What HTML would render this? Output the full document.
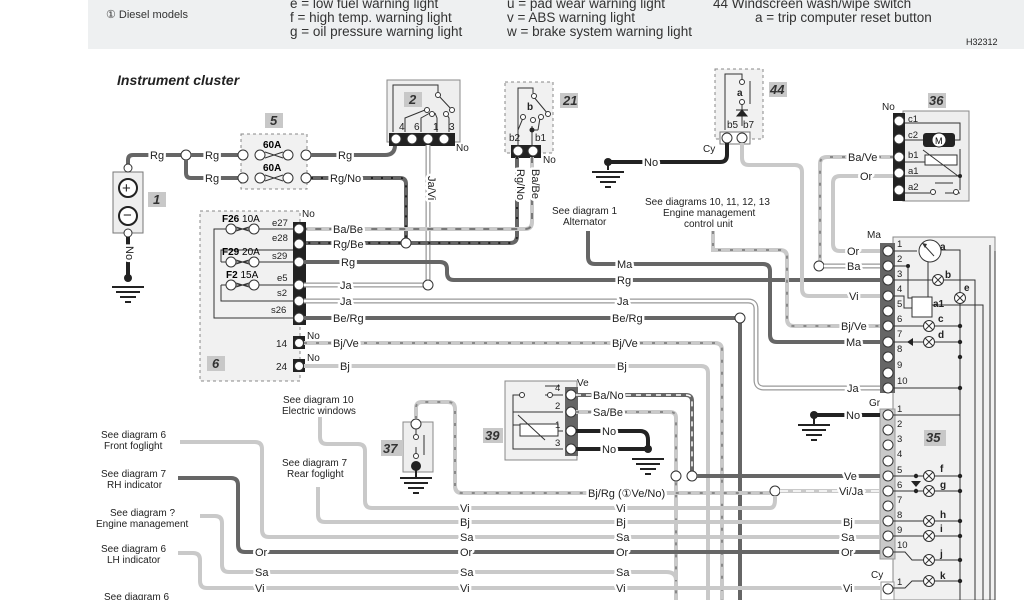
<!DOCTYPE html>
<html><head><meta charset="utf-8"><style>
html,body{margin:0;padding:0;background:#fff;}
svg{display:block;font-family:"Liberation Sans",Arial,sans-serif;}
.t{font-size:11px;fill:#222;paint-order:stroke;stroke:#fff;stroke-width:5px;stroke-linejoin:round;}
.s{font-size:10px;fill:#222;}
.h{font-size:13.5px;fill:#333;}
.d{fill:none;stroke:#666;stroke-width:4;}
.l{fill:none;stroke:#c9c9c9;stroke-width:4;}
.k{fill:none;stroke:#222;stroke-width:4;}
.dd{fill:none;stroke:#222;stroke-width:2;stroke-dasharray:2 8;}
.ld{fill:none;stroke:#888;stroke-width:2;stroke-dasharray:3 9;}
.ja{fill:none;stroke:#999;stroke-width:5;}
.jw{fill:none;stroke:#fff;stroke-width:2.5;}
.thin{fill:none;stroke:#333;stroke-width:1;}
.pin{fill:#fff;stroke:#333;stroke-width:1;}
.num{font-size:13px;font-weight:bold;font-style:italic;fill:#333;}
.nb{fill:#c8c8c8;}
</style></head><body>
<svg width="1024" height="600" viewBox="0 0 1024 600" xmlns="http://www.w3.org/2000/svg">
<!-- header -->
<rect x="88" y="0" width="936" height="49" fill="#eef0f1"/>
<text x="106" y="18" style="font-size:11px" fill="#333">① Diesel models</text>
<text class="h" x="290" y="8">e = low fuel warning light</text>
<text class="h" x="290" y="22">f  = high temp. warning light</text>
<text class="h" x="290" y="36">g = oil pressure warning light</text>
<text class="h" x="507" y="8">u = pad wear warning light</text>
<text class="h" x="507" y="22">v = ABS warning light</text>
<text class="h" x="507" y="36">w = brake system warning light</text>
<text class="h" x="713" y="8">44   Windscreen wash/wipe switch</text>
<text class="h" x="755" y="22">a  =  trip computer reset button</text>
<text class="s" x="966" y="45" style="font-size:9px">H32312</text>
<text x="117" y="85" style="font-size:14px;font-weight:bold;font-style:italic" fill="#222">Instrument cluster</text>

<!-- background boxes -->
<rect x="200" y="211" width="100" height="170" fill="#f1f1f1" stroke="#888" stroke-dasharray="3 3"/>
<rect x="241" y="134" width="66" height="55" fill="#f1f1f1" stroke="#888" stroke-dasharray="3 3"/>
<rect x="387" y="80" width="73" height="62" fill="#eee" stroke="#888"/>
<rect x="505" y="82" width="48" height="71" fill="#f1f1f1" stroke="#888" stroke-dasharray="3 3"/>
<rect x="715" y="69" width="48" height="70" fill="#f1f1f1" stroke="#888" stroke-dasharray="3 3"/>
<rect x="903" y="111" width="66" height="90" fill="#eee" stroke="#888"/>
<rect x="893" y="237" width="102" height="363" fill="#f1f1f1" stroke="#888"/>
<rect x="505" y="381" width="72" height="79" fill="#f1f1f1" stroke="#888"/>
<rect x="403" y="422" width="30" height="50" fill="#eee" stroke="#888"/>

<!-- battery 1 -->
<rect x="113" y="172" width="30" height="61" fill="#eee" stroke="#777"/>
<circle cx="128" cy="188" r="9" fill="#fff" stroke="#222" stroke-width="2"/><text x="122" y="193" style="font-size:15px" fill="#222">+</text>
<circle cx="128" cy="216" r="9" fill="#fff" stroke="#222" stroke-width="2"/><text x="123" y="220" style="font-size:15px" fill="#222">−</text>
<rect x="148" y="192" width="18" height="15" class="nb"/><text class="num" x="153" y="204">1</text>
<path class="d" d="M128 168 V160 Q128 155 133 155 H186"/>
<circle cx="128" cy="168" r="4" class="pin"/><circle cx="128" cy="233" r="4" class="pin"/>
<path class="k" d="M128 237 V275"/><text class="t" x="122" y="250" transform="rotate(90 126 250)">No</text>
<circle cx="128" cy="278" r="4" fill="#222"/>
<path d="M112 287 H144 M116 292 H140 M120 297 H136 M125 302 H131" stroke="#222" stroke-width="2"/>

<!-- Rg to fuses -->
<circle cx="186" cy="155" r="5" class="pin"/>
<path class="d" d="M191 155 H240 M186 160 V173 Q186 178 191 178 H240"/>
<text class="t" x="150" y="159">Rg</text><text class="t" x="205" y="159">Rg</text><text class="t" x="205" y="182">Rg</text>
<rect x="265" y="113" width="18" height="15" class="nb"/><text class="num" x="270" y="125">5</text>
<text x="263" y="148" style="font-size:10px;font-weight:bold">60A</text>
<text x="263" y="171" style="font-size:10px;font-weight:bold">60A</text>
<g class="pin"><circle cx="243" cy="155" r="5"/><circle cx="260" cy="155" r="5"/><circle cx="288" cy="155" r="5"/><circle cx="306" cy="155" r="5"/>
<circle cx="243" cy="178" r="5"/><circle cx="260" cy="178" r="5"/><circle cx="288" cy="178" r="5"/><circle cx="306" cy="178" r="5"/></g>
<path class="thin" d="M265 152 L283 158 M265 158 L283 152 M265 175 L283 181 M265 181 L283 175"/>
<path class="d" d="M311 155 H385 Q395 155 395 145"/>
<text class="t" x="338" y="159">Rg</text>
<path class="d" d="M311 178 H400 Q406 178 406 184 V243"/><path class="dd" d="M311 178 H400 Q406 178 406 184 V243"/>
<text class="t" x="330" y="182">Rg/No</text>

<!-- component 2 -->
<rect x="404" y="92" width="18" height="15" class="nb"/><text class="num" x="409" y="104">2</text>
<path class="thin" d="M393 132 V85 H438 V92 M438 95 L452 110 M405 132 V118 L425 110 M421 132 V118 L430 113 M437 132 V118 L435 113 M449 132 V118 L446 113"/>
<g class="pin"><circle cx="438" cy="95" r="2.5"/><circle cx="452" cy="110" r="2.5"/><circle cx="427" cy="110" r="2.5"/><circle cx="432" cy="114" r="2.5"/><circle cx="446" cy="114" r="2.5"/></g>
<text class="s" x="399" y="130">4</text><text class="s" x="414" y="130">6</text><text class="s" x="433" y="130">1</text><text class="s" x="449" y="130">3</text>
<rect x="389" y="133" width="66" height="13" fill="#222"/>
<g class="pin"><circle cx="396" cy="139" r="5"/><circle cx="412" cy="139" r="5"/><circle cx="428" cy="139" r="5"/><circle cx="444" cy="139" r="5"/></g>
<text class="s" x="456" y="151">No</text>
<path class="ja" d="M428 145 V285"/><path class="jw" d="M428 145 V285"/>
<text class="t" x="424" y="180" transform="rotate(90 428 180)">Ja/Vi</text>

<!-- component 21 -->
<rect x="560" y="93" width="18" height="15" class="nb"/><text class="num" x="563" y="105">21</text>
<path class="thin" d="M518 145 V88 H533 V93 M533 96 L548 114 M518 145 V130 L523 118 M532 145 V126 M538 130 L540 118 M532 130 H538"/>
<circle cx="532" cy="130" r="2.5" fill="#222"/>
<g class="pin"><circle cx="534" cy="96" r="2.5"/><circle cx="548" cy="114" r="2.5"/><circle cx="523" cy="117" r="2.5"/><circle cx="533" cy="120" r="2.5"/><circle cx="541" cy="117" r="2.5"/></g>
<text class="s" x="527" y="110" style="font-weight:bold">b</text>
<text class="s" x="509" y="141">b2</text><text class="s" x="535" y="141">b1</text>
<rect x="511" y="145" width="30" height="13" fill="#222"/>
<g class="pin"><circle cx="518" cy="151" r="5"/><circle cx="533" cy="151" r="5"/></g>
<text class="s" x="543" y="163">No</text>
<path class="d" d="M517 157 V236 Q517 243 510 243 H304"/><path class="dd" d="M517 157 V236 Q517 243 510 243 H304"/>
<path class="l" d="M532 157 V222 Q532 229 525 229 H304"/><path d="M532 157 V222 Q532 229 525 229 H304" fill="none" stroke="#777" stroke-width="2" stroke-dasharray="6 8"/>
<text class="t" x="514" y="172" transform="rotate(90 517 172)">Rg/No</text>
<text class="t" x="529" y="172" transform="rotate(90 532 172)">Ba/Be</text>
<circle cx="406" cy="243" r="5" class="pin"/>

<!-- component 6 -->
<path class="thin" d="M300 229 H214 V318 H300 M221 262 V250 H300 M221 262 H300 M221 285 V301 H300 M221 285 H300"/>
<g class="pin"><circle cx="231" cy="229" r="5"/><circle cx="254" cy="229" r="5"/><circle cx="231" cy="262" r="5"/><circle cx="254" cy="262" r="5"/><circle cx="231" cy="285" r="5"/><circle cx="254" cy="285" r="5"/></g>
<path class="thin" d="M236 227 L249 231 M236 231 L249 227 M236 260 L249 264 M236 264 L249 260 M236 283 L249 287 M236 287 L249 283"/>
<text x="222" y="222" style="font-size:10px"><tspan font-weight="bold">F26</tspan> 10A</text>
<text x="222" y="255" style="font-size:10px"><tspan font-weight="bold">F29</tspan> 20A</text>
<text x="226" y="278" style="font-size:10px"><tspan font-weight="bold">F2</tspan> 15A</text>
<g class="s" style="font-size:9.5px"><text x="272" y="226">e27</text><text x="272" y="241">e28</text><text x="272" y="259">s29</text><text x="277" y="281">e5</text><text x="277" y="296">s2</text><text x="271" y="313">s26</text></g>
<text class="s" x="302" y="217">No</text>
<rect x="293" y="222" width="13" height="103" fill="#222"/>
<g class="pin"><circle cx="299" cy="229" r="5"/><circle cx="299" cy="244" r="5"/><circle cx="299" cy="262" r="5"/><circle cx="299" cy="285" r="5"/><circle cx="299" cy="301" r="5"/><circle cx="299" cy="318" r="5"/></g>
<rect x="293" y="336" width="12" height="13" fill="#222"/><circle cx="299" cy="343" r="4.5" class="pin"/>
<rect x="293" y="359" width="12" height="13" fill="#222"/><circle cx="299" cy="366" r="4.5" class="pin"/>
<text class="s" x="276" y="347">14</text><text class="s" x="276" y="370">24</text>
<text class="s" x="307" y="339">No</text><text class="s" x="307" y="361">No</text>
<rect x="207" y="356" width="18" height="15" class="nb"/><text class="num" x="212" y="368">6</text>
<text class="t" x="333" y="233">Ba/Be</text><text class="t" x="333" y="248">Rg/Be</text>

<!-- left-to-right wires -->
<path class="d" d="M304 262 H440 Q447 262 447 269 V273 Q447 280 454 280 H880"/>
<text class="t" x="341" y="266">Rg</text><text class="t" x="617" y="284">Rg</text>
<path class="ja" d="M304 285 H428"/><path class="jw" d="M304 285 H428"/><circle cx="428" cy="285" r="5" class="pin"/>
<text class="t" x="340" y="289">Ja</text>
<path class="ja" d="M304 301 H748 Q756 301 756 309 V380 Q756 388 764 388 H880"/><path class="jw" d="M304 301 H748 Q756 301 756 309 V380 Q756 388 764 388 H880"/>
<text class="t" x="340" y="305">Ja</text><text class="t" x="617" y="305">Ja</text><text class="t" x="847" y="392">Ja</text>
<path class="d" d="M304 318 H740 V600"/><circle cx="740" cy="318" r="5" class="pin"/>
<text class="t" x="333" y="322">Be/Rg</text><text class="t" x="612" y="322">Be/Rg</text>
<path class="l" d="M304 343 H715 Q722 343 722 350 V600"/><path class="ld" d="M304 343 H715 Q722 343 722 350 V600"/>
<text class="t" x="333" y="347">Bj/Ve</text><text class="t" x="612" y="347">Bj/Ve</text>
<path class="l" d="M304 366 H701 Q708 366 708 373 V600"/>
<text class="t" x="340" y="370">Bj</text><text class="t" x="617" y="370">Bj</text>

<!-- alternator Ma -->
<text class="s" x="552" y="214">See diagram 1</text><text class="s" x="563" y="225">Alternator</text>
<path class="d" d="M588 231 V257 Q588 264 595 264 H763 Q770 264 770 271 V335 Q770 342 777 342 H880"/>
<text class="t" x="617" y="268">Ma</text><text class="t" x="846" y="346">Ma</text>
<!-- engine mgmt -->
<text class="s" x="645" y="205">See diagrams 10, 11, 12, 13</text><text class="s" x="663" y="216">Engine management</text><text class="s" x="684" y="227">control unit</text>
<path class="l" d="M713 231 V250 H780 Q787 250 787 257 V319 Q787 326 794 326 H880"/><path class="ld" d="M713 231 V250 H780 Q787 250 787 257 V319 Q787 326 794 326 H880"/>
<text class="t" x="841" y="330">Bj/Ve</text>

<!-- component 44 -->
<rect x="769" y="82" width="18" height="15" class="nb"/><text class="num" x="770" y="94">44</text>
<path class="thin" d="M725 130 V74 H742 V80 M742 103 V126 M750 81 V104"/>
<g class="pin"><circle cx="742" cy="82" r="2.5"/><circle cx="742" cy="102" r="2.5"/></g>
<path d="M737 116 H747 L742 110 Z M736 110 H748" fill="#222" stroke="#222"/>
<text class="s" x="737" y="96" style="font-weight:bold">a</text>
<text class="s" x="727" y="128">b5</text><text class="s" x="743" y="128">b7</text>
<rect x="720" y="132" width="30" height="12" fill="#fff" stroke="#777"/>
<g class="pin"><circle cx="727" cy="138" r="5"/><circle cx="742" cy="138" r="5"/></g>
<text class="s" x="703" y="152">Cy</text>
<path class="k" d="M727 143 V155 Q727 162 720 162 H608"/>
<text class="t" x="644" y="166">No</text>
<circle cx="608" cy="162" r="4" fill="#222"/>
<path d="M608 162 V170 M592 172 H624 M596 177 H620 M600 182 H616 M605 187 H611" stroke="#222" stroke-width="2"/>
<path class="l" d="M742 143 V158 Q742 165 749 165 H795 Q802 165 802 172 V289 Q802 296 809 296 H880"/>
<text class="t" x="849" y="300">Vi</text>

<!-- component 36 -->
<rect x="928" y="93" width="18" height="15" class="nb"/><text class="num" x="929" y="105">36</text>
<text class="s" x="882" y="110">No</text>
<rect x="893" y="113" width="12" height="88" fill="#222"/>
<g class="pin"><circle cx="899" cy="121" r="5"/><circle cx="899" cy="139" r="5"/><circle cx="899" cy="157" r="5"/><circle cx="899" cy="173" r="5"/><circle cx="899" cy="190" r="5"/></g>
<g class="s" style="font-size:9.5px"><text x="908" y="122">c1</text><text x="908" y="138">c2</text><text x="908" y="158">b1</text><text x="908" y="174">a1</text><text x="908" y="190">a2</text></g>
<path class="thin" d="M905 123 H960 V140 H955 M905 140 H923 M905 162 H925 M905 176 H960 V149 M960 176 V190 M905 193 H930 M945 193 H960"/>
<rect x="923" y="133" width="32" height="14" rx="3" fill="#222"/><circle cx="939" cy="140" r="7" fill="#fff" stroke="#222"/><text x="935" y="144" style="font-size:9px">M</text>
<rect x="925" y="155" width="32" height="10" fill="#fff" stroke="#333"/><path class="thin" d="M923 150 L958 176"/><circle cx="960" cy="176" r="2" fill="#222"/>
<path class="thin" d="M935 183 H953" stroke-width="2"/><g class="pin"><circle cx="933" cy="192" r="2.5"/><circle cx="956" cy="192" r="2.5"/></g>
<path class="l" d="M893 157 H827 Q820 157 820 164 V261"/><path class="ld" d="M893 157 H827 Q820 157 820 164 V261" stroke="#666"/>
<circle cx="819" cy="266" r="5" class="pin"/>
<text class="t" x="848" y="161">Ba/Ve</text>
<path class="l" d="M893 176 H840 Q833 176 833 183 V244 Q833 251 840 251 H880"/>
<text class="t" x="860" y="180">Or</text><text class="t" x="847" y="255">Or</text>
<path class="ja" d="M824 266 H880"/><path class="jw" d="M824 266 H880"/><text class="t" x="847" y="270">Ba</text>

<!-- Ma connector -->
<text class="s" x="867" y="238">Ma</text>
<rect x="880" y="243" width="15" height="150" fill="#666"/>
<g class="pin">
<circle cx="888" cy="251" r="5"/><circle cx="888" cy="266" r="5"/><circle cx="888" cy="280" r="5"/><circle cx="888" cy="296" r="5"/><circle cx="888" cy="311" r="5"/><circle cx="888" cy="326" r="5"/><circle cx="888" cy="342" r="5"/><circle cx="888" cy="357" r="5"/><circle cx="888" cy="373" r="5"/><circle cx="888" cy="388" r="5"/></g>
<g class="s" style="font-size:9.5px"><text x="897" y="247">1</text><text x="897" y="262">2</text><text x="897" y="277">3</text><text x="897" y="292">4</text><text x="897" y="307">5</text><text x="897" y="322">6</text><text x="897" y="337">7</text><text x="897" y="352">8</text><text x="897" y="368">9</text><text x="897" y="384">10</text></g>
<path class="thin" d="M893 251 H917 M893 266 H908 V298 H913 M893 280 H975 V600 M893 296 H904 V308 H912 M928 258 V300 M938 250 H960 V600 M925 305 H983 V600 M893 326 H960 M893 342 H960 M893 388 H960 M995 251 V600 M990 245 V600"/>
<circle cx="930" cy="251" r="11" fill="#fff" stroke="#333"/><path d="M924 245 L934 256" stroke="#333"/><path d="M922 243 L927 244 L925 248 Z" fill="#333"/>
<text class="s" x="940" y="250" style="font-weight:bold">a</text>
<rect x="912" y="297" width="20" height="20" fill="#fff" stroke="#333"/><text class="s" x="933" y="307" style="font-weight:bold">a1</text>
<circle cx="908" cy="266" r="2" fill="#222"/>
<g fill="#fff" stroke="#333"><circle cx="938" cy="280" r="5.5"/><circle cx="960" cy="298" r="5.5"/><circle cx="929" cy="326" r="5.5"/><circle cx="929" cy="342" r="5.5"/></g>
<path class="thin" d="M934 276 L942 284 M942 276 L934 284 M956 294 L964 302 M964 294 L956 302 M925 322 L933 330 M933 322 L925 330 M925 338 L933 346 M933 338 L925 346"/>
<text class="s" x="945" y="278" style="font-weight:bold">b</text><text class="s" x="964" y="291" style="font-weight:bold">e</text>
<text class="s" x="938" y="322" style="font-weight:bold">c</text><text class="s" x="938" y="338" style="font-weight:bold">d</text>
<path d="M913 338 V346 L907 342 Z" fill="#222"/>
<g fill="#222"><circle cx="960" cy="326" r="2.2"/><circle cx="960" cy="342" r="2.2"/><circle cx="960" cy="357" r="2.2"/><circle cx="960" cy="388" r="2.2"/></g>

<!-- Gr connector 35 -->
<text class="s" x="869" y="406">Gr</text>
<rect x="880" y="409" width="15" height="150" fill="#c9c9c9" stroke="#999"/>
<g class="pin">
<circle cx="888" cy="415" r="5"/><circle cx="888" cy="430" r="5"/><circle cx="888" cy="445" r="5"/><circle cx="888" cy="461" r="5"/><circle cx="888" cy="476" r="5"/><circle cx="888" cy="491" r="5"/><circle cx="888" cy="506" r="5"/><circle cx="888" cy="521" r="5"/><circle cx="888" cy="536" r="5"/><circle cx="888" cy="552" r="5"/><circle cx="888" cy="588" r="5"/></g>
<g class="s" style="font-size:9.5px"><text x="897" y="412">1</text><text x="897" y="427">2</text><text x="897" y="442">3</text><text x="897" y="457">4</text><text x="897" y="473">5</text><text x="897" y="488">6</text><text x="897" y="503">7</text><text x="897" y="518">8</text><text x="897" y="533">9</text><text x="897" y="548">10</text><text x="897" y="585">1</text></g>
<text class="s" x="871" y="578">Cy</text>
<rect x="881" y="582" width="13" height="18" fill="#fff" stroke="#999"/><circle cx="888" cy="589" r="5" class="pin"/>
<rect x="924" y="430" width="22" height="16" class="nb"/><text class="num" x="926" y="442">35</text>
<path class="thin" d="M893 415 H960 V600 M893 476 H960 M893 491 H960 M893 521 H960 M893 536 H960 M893 552 H905 L912 560 H960 M893 588 H905 L912 581 H960"/>
<g fill="#fff" stroke="#333"><circle cx="929" cy="476" r="5.5"/><circle cx="929" cy="491" r="5.5"/><circle cx="929" cy="521" r="5.5"/><circle cx="929" cy="536" r="5.5"/><circle cx="929" cy="560" r="5.5"/><circle cx="929" cy="581" r="5.5"/></g>
<path class="thin" d="M925 472 L933 480 M933 472 L925 480 M925 487 L933 495 M933 487 L925 495 M925 517 L933 525 M933 517 L925 525 M925 532 L933 540 M933 532 L925 540 M925 556 L933 564 M933 556 L925 564 M925 577 L933 585 M933 577 L925 585"/>
<g class="s" style="font-weight:bold"><text x="940" y="472">f</text><text x="940" y="488">g</text><text x="940" y="518">h</text><text x="940" y="532">i</text><text x="940" y="557">j</text><text x="940" y="579">k</text></g>
<g fill="#222"><circle cx="960" cy="476" r="2.2"/><circle cx="960" cy="491" r="2.2"/><circle cx="960" cy="521" r="2.2"/><circle cx="960" cy="536" r="2.2"/><circle cx="960" cy="560" r="2.2"/><circle cx="960" cy="581" r="2.2"/><circle cx="916" cy="476" r="2.2"/><circle cx="916" cy="491" r="2.2"/></g>
<path d="M911 481 H921 L916 487 Z" fill="#222"/>
<path class="k" d="M814 415 H880"/><text class="t" x="846" y="419">No</text>
<circle cx="814" cy="415" r="4" fill="#222"/>
<path d="M814 415 V424 M798 425 H830 M802 430 H826 M806 435 H822 M811 440 H817" stroke="#222" stroke-width="2"/>

<!-- component 39 -->
<rect x="483" y="428" width="20" height="15" class="nb"/><text class="num" x="485" y="440">39</text>
<path class="thin" d="M545 386 H560 M563 395 H550 M525 395 H513 V425 H522 M552 395 H545 M563 412 H513 M563 431 H555 M563 449 H513 V412"/>
<g class="pin"><circle cx="522" cy="395" r="2.5"/><circle cx="550" cy="395" r="2.5"/></g>
<rect x="520" y="424" width="38" height="12" fill="#fff" stroke="#333"/><path class="thin" d="M518 415 L545 440"/>
<g class="s" style="font-size:9.5px"><text x="555" y="391">4</text><text x="555" y="409">2</text><text x="555" y="428">1</text><text x="555" y="446">3</text></g>
<rect x="565" y="387" width="13" height="69" fill="#666"/>
<g class="pin"><circle cx="571" cy="395" r="5"/><circle cx="571" cy="412" r="5"/><circle cx="571" cy="431" r="5"/><circle cx="571" cy="449" r="5"/></g>
<text class="s" x="577" y="386">Ve</text>
<path class="d" d="M576 395 H686 Q692 395 692 401 V471" stroke="#222"/><path d="M576 395 H686 Q692 395 692 401 V471" fill="none" stroke="#fff" stroke-width="1.5" stroke-dasharray="5 5"/>
<text class="t" x="593" y="399">Ba/No</text>
<path class="l" d="M576 412 H670 Q676 412 676 418 V600"/><path class="ld" d="M576 412 H670 Q676 412 676 418 V600"/>
<text class="t" x="593" y="416">Sa/Be</text>
<path class="k" d="M576 431 H640 Q648 431 648 440 V449 M576 449 H648"/>
<text class="t" x="602" y="435">No</text><text class="t" x="602" y="453">No</text>
<circle cx="648" cy="449" r="4" fill="#222"/>
<path d="M632 459 H664 M636 464 H660 M640 469 H656 M645 474 H651" stroke="#222" stroke-width="2"/>
<circle cx="676" cy="476" r="5" class="pin"/><circle cx="692" cy="476" r="5" class="pin"/>
<path class="d" d="M697 476 H880"/><text class="t" x="844" y="480">Ve</text>

<!-- component 37 -->
<rect x="381" y="440" width="22" height="16" class="nb"/><text class="num" x="383" y="453">37</text>
<circle cx="416" cy="424" r="5" class="pin"/>
<path class="thin" d="M416 429 V437 M416 447 V455 M424 435 V455"/>
<g class="pin"><circle cx="416" cy="437" r="2.5"/><circle cx="416" cy="456" r="2.5"/></g>
<circle cx="416" cy="466" r="5" fill="#222"/>
<path d="M416 466 V478 M400 478 H432 M404 483 H428 M408 488 H424 M413 493 H419" stroke="#222" stroke-width="2"/>
<path class="l" d="M416 419 V408 Q416 402 422 402 H448 Q455 402 455 409 V486 Q455 493 462 493 H770"/><path class="ld" d="M416 419 V408 Q416 402 422 402 H448 Q455 402 455 409 V486 Q455 493 462 493 H770"/>
<text class="t" x="588" y="497">Bj/Rg (①Ve/No)</text>
<circle cx="775" cy="491" r="5" class="pin"/>
<path class="l" d="M780 491 H880"/><path d="M780 491 H880" fill="none" stroke="#fff" stroke-width="1.5" stroke-dasharray="8 5"/>
<text class="t" x="839" y="495">Vi/Ja</text>

<!-- left labels -->
<g class="s">
<text x="283" y="403">See diagram 10</text><text x="282" y="414">Electric windows</text>
<text x="282" y="466">See diagram 7</text><text x="287" y="477">Rear foglight</text>
<text x="101" y="438">See diagram 6</text><text x="104" y="449">Front foglight</text>
<text x="101" y="477">See diagram 7</text><text x="107" y="488">RH indicator</text>
<text x="110" y="516">See diagram ?</text><text x="96" y="527">Engine management</text>
<text x="101" y="552">See diagram 6</text><text x="107" y="563">LH indicator</text>
<text x="104" y="600">See diagram 6</text>
</g>
<path class="l" d="M320 417 V437 Q320 444 327 444 H358 Q365 444 365 451 V501 Q365 508 372 508 H770 Q775 508 775 500 V496"/>
<path class="l" d="M318 487 V515 Q318 522 325 522 H880"/>
<path class="l" d="M180 442 H255 Q262 442 262 449 V530 Q262 537 269 537 H880"/>
<path class="d" d="M178 478 H231 Q238 478 238 485 V545 Q238 552 245 552 H880"/>
<path class="l" d="M200 516 H215 Q222 516 222 523 V565 Q222 572 229 572 H666 Q676 572 676 580"/>
<path class="l" d="M178 553 H193 Q200 553 200 560 V581 Q200 588 207 588 H880"/>
<g>
<text class="t" x="460" y="512">Vi</text><text class="t" x="616" y="512">Vi</text>
<text class="t" x="460" y="526">Bj</text><text class="t" x="616" y="526">Bj</text><text class="t" x="843" y="526">Bj</text>
<text class="t" x="460" y="541">Sa</text><text class="t" x="616" y="541">Sa</text><text class="t" x="841" y="541">Sa</text>
<text class="t" x="255" y="556">Or</text><text class="t" x="460" y="556">Or</text><text class="t" x="616" y="556">Or</text><text class="t" x="841" y="556">Or</text>
<text class="t" x="255" y="576">Sa</text><text class="t" x="460" y="576">Sa</text><text class="t" x="616" y="576">Sa</text>
<text class="t" x="255" y="592">Vi</text><text class="t" x="460" y="592">Vi</text><text class="t" x="616" y="592">Vi</text><text class="t" x="843" y="592">Vi</text>
</g>
</svg>
</body></html>
